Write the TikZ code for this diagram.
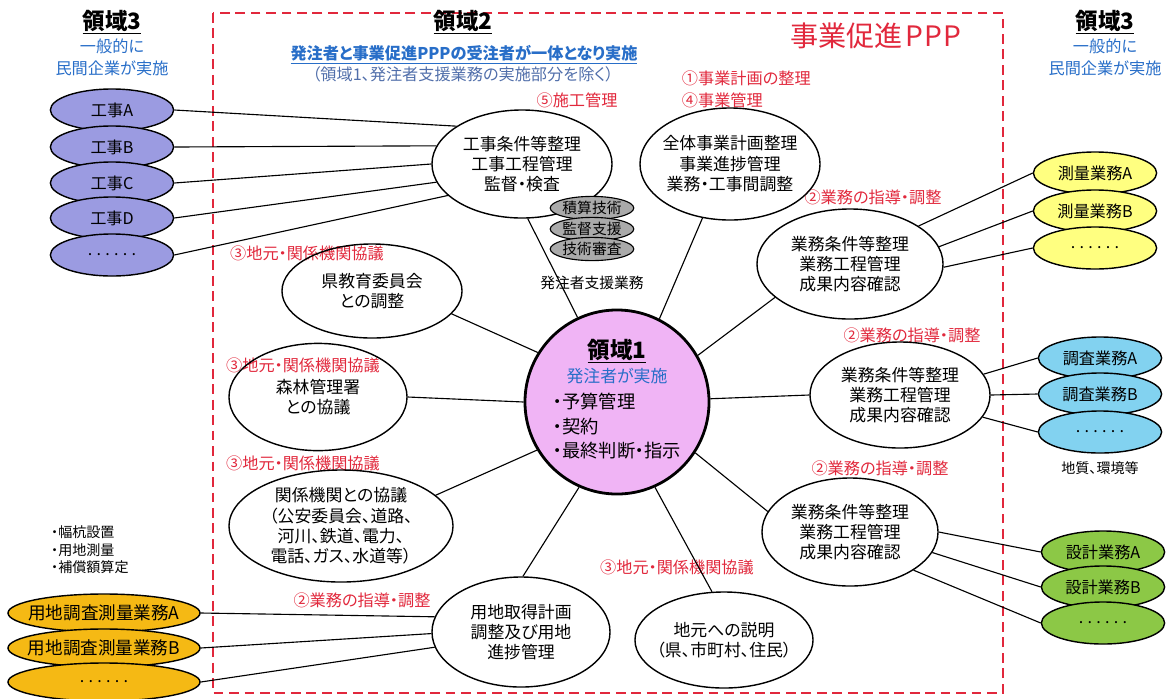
\documentclass[tikz,border=0pt]{standalone}
\usepackage{fontspec}
\setmainfont{Noto Sans CJK JP}[RawFeature=+palt]
\usetikzlibrary{shapes.geometric}
\definecolor{pppred}{RGB}{225,40,60}
\definecolor{ryoblue}{RGB}{40,110,200}
\definecolor{notegray}{RGB}{80,110,170}
\definecolor{kojicol}{RGB}{155,155,225}
\definecolor{sokucol}{RGB}{255,255,128}
\definecolor{chosacol}{RGB}{130,210,240}
\definecolor{sekkeicol}{RGB}{140,200,70}
\definecolor{yochicol}{RGB}{245,185,20}
\definecolor{ryo1col}{RGB}{240,180,245}
\definecolor{shiencol}{RGB}{170,170,170}
\newcommand{\sixdots}{.\kern3pt.\kern3pt.\kern3pt.\kern3pt.\kern3pt.}

\begin{document}
\begin{tikzpicture}[x=0.025cm,y=-0.025cm,thick,
	oval/.style={ellipse, draw, line width=1pt, align=center, inner xsep=-6pt, inner ysep=0pt, font=\fontsize{12}{14.5}\selectfont},
	firm/.style={ellipse, draw, line width=1pt, fill=#1, inner xsep=-6pt, inner ysep=0pt, minimum width=3.08cm, minimum height=1.05cm, font=\fontsize{11.5}{13}\selectfont},
	shien/.style={ellipse, draw, thick, fill=shiencol, inner sep=0pt, minimum width=2.08cm, minimum height=0.58cm, font=\fontsize{10.5}{12}\selectfont},
	head/.style={font=\fontsize{16}{18}\selectfont\bfseries},
	subhead/.style={text=ryoblue, align=center, font=\fontsize{11.5}{15.5}\selectfont},
	redlab/.style={text=pppred, inner sep=1pt, font=\fontsize{11.5}{15.5}\selectfont},
	memo/.style={align=left, font=\fontsize{10}{12.4}\selectfont}]
	\useasboundingbox (0,0) rectangle (1174,698);
	\draw[pppred, line width=1.5pt, dash pattern=on 7pt off 4pt] (213,13) rectangle (1003,693);

	\node[head] (l3L) at (112,22) {\underline{領域3}};
	\node[subhead] (l3Lsub) at (112,57) {一般的に\\民間企業が実施};
	\node[head] (l3R) at (1105,22) {\underline{領域3}};
	\node[subhead] (l3Rsub) at (1105,57) {一般的に\\民間企業が実施};
	\node[head] (l2) at (463,22) {\underline{領域2}};
	\node[text=ryoblue, font=\fontsize{11.5}{13}\selectfont\bfseries] (l2sub) at (464,55) {\underline{発注者と事業促進PPPの受注者が一体となり実施}};
	\node[text=notegray, font=\fontsize{11.5}{13}\selectfont] (l2note) at (463,74) {（領域1、発注者支援業務の実施部分を除く）};
	\node[text=pppred, font=\fontsize{20}{22}\selectfont] (ppp) at (876,36) {事業促進\kern1.5pt P\kern1pt P\kern1pt P};

	\node[redlab, anchor=west, align=left] (task14) at (680,89) {①事業計画の整理\\④事業管理};
	\node[redlab] (task5) at (577,100) {⑤施工管理};
	\node[redlab] (task2a) at (873,197) {②業務の指導・調整};
	\node[redlab] (task2b) at (912,335) {②業務の指導・調整};
	\node[redlab] (task2c) at (880,468) {②業務の指導・調整};
	\node[redlab] (task2d) at (362,600) {②業務の指導・調整};
	\node[redlab] (task3a) at (307,253) {③地元・関係機関協議};
	\node[redlab] (task3b) at (303,365) {③地元・関係機関協議};
	\node[redlab] (task3c) at (303,463) {③地元・関係機関協議};
	\node[redlab] (task3d) at (677,567) {③地元・関係機関協議};

	\node[circle, draw, line width=2pt, fill=ryo1col, minimum size=4.6cm, inner sep=-4pt, align=center, font=\fontsize{13}{17.5}\selectfont] (ryo1) at (617,402) {{\fontsize{16}{20}\selectfont\bfseries\underline{領域1}}\\{\color{ryoblue}\fontsize{12}{16}\selectfont 発注者が実施}\\[4pt]\begin{tabular}{@{}l@{}}・予算管理\\・契約\\・最終判断・指示\end{tabular}};

	\node[oval, minimum width=4.5cm, minimum height=2.7cm] (koji) at (522,164) {工事条件等整理\\工事工程管理\\監督・検査};
	\node[oval, minimum width=4.5cm, minimum height=2.8cm] (zentai) at (730,164) {全体事業計画整理\\事業進捗管理\\業務・工事間調整};
	\node[oval, minimum width=4.65cm, minimum height=2.75cm] (gyomu1) at (850,264) {業務条件等整理\\業務工程管理\\成果内容確認};
	\node[oval, minimum width=4.5cm, minimum height=2.65cm] (gyomu2) at (900,395) {業務条件等整理\\業務工程管理\\成果内容確認};
	\node[oval, minimum width=4.4cm, minimum height=2.7cm] (gyomu3) at (850,532) {業務条件等整理\\業務工程管理\\成果内容確認};
	\node[oval, minimum width=4.45cm, minimum height=2.4cm] (jimoto) at (724,640) {地元への説明\\（県、市町村、住民）};
	\node[oval, minimum width=4.5cm, minimum height=2.35cm] (kyoiku) at (372,291) {県教育委員会\\との調整};
	\node[oval, minimum width=4.45cm, minimum height=2.68cm] (shinrin) at (318,397) {森林管理署\\との協議};
	\node[oval, minimum width=5.6cm, minimum height=2.8cm] (kankei) at (341,526) {関係機関との協議\\（公安委員会、道路、\\河川、鉄道、電力、\\電話、ガス、水道等）};
	\node[oval, minimum width=4.45cm, minimum height=2.75cm] (yochi) at (521,632) {用地取得計画\\調整及び用地\\進捗管理};

	\node[shien] (sekisan) at (592,208) {積算技術};
	\node[shien] (kantoku) at (592,229) {監督支援};
	\node[shien] (gijutsu) at (592,249) {技術審査};
	\node[font=\fontsize{10.5}{12}\selectfont] (shienlab) at (592,283) {発注者支援業務};

	\node[firm=kojicol] (kojiA) at (112,110) {工事A};
	\node[firm=kojicol] (kojiB) at (112,147) {工事B};
	\node[firm=kojicol] (kojiC) at (112,183) {工事C};
	\node[firm=kojicol] (kojiD) at (112,218) {工事D};
	\node[firm=kojicol] (kojiE) at (112,255) {\sixdots};
	\node[firm=sokucol] (sokuA) at (1095,173) {測量業務A};
	\node[firm=sokucol] (sokuB) at (1095,211) {測量業務B};
	\node[firm=sokucol] (sokuE) at (1095,248) {\sixdots};
	\node[firm=chosacol] (chosaA) at (1100,358) {調査業務A};
	\node[firm=chosacol] (chosaB) at (1100,394) {調査業務B};
	\node[firm=chosacol] (chosaE) at (1100,432) {\sixdots};
	\node[firm=sekkeicol] (sekkeiA) at (1103,552) {設計業務A};
	\node[firm=sekkeicol] (sekkeiB) at (1103,587) {設計業務B};
	\node[firm=sekkeicol] (sekkeiE) at (1103,623) {\sixdots};
	\node[firm=yochicol, minimum width=4.8cm, minimum height=0.95cm, font=\fontsize{12.5}{14}\selectfont] (yochiA) at (104,613) {用地調査測量業務A};
	\node[firm=yochicol, minimum width=4.8cm, minimum height=0.95cm, font=\fontsize{12.5}{14}\selectfont] (yochiB) at (104,648) {用地調査測量業務B};
	\node[firm=yochicol, minimum width=4.8cm, minimum height=0.95cm] (yochiE) at (104,682) {\sixdots};

	\node[memo, anchor=west] (yochimemo) at (46,550) {・幅杭設置\\・用地測量\\・補償額算定};
	\node[memo] (chosamemo) at (1100,468) {地質、環境等};

	\draw (ryo1.115) -- (koji.-84);
	\draw (ryo1.63) -- (zentai.-117);
	\draw (ryo1.30) -- (gyomu1.-156);
	\draw (ryo1.2) -- (gyomu2.west);
	\draw (ryo1.-33) -- (gyomu3.166);
	\draw (ryo1.-66) -- (jimoto.104);
	\draw (ryo1.-114) -- (yochi.88);
	\draw (ryo1.-149) -- (kankei.18);
	\draw (ryo1.west) -- (shinrin.east);
	\draw (ryo1.148) -- (kyoiku.-16);

	\draw (kojiA.east) -- (koji.150);
	\draw (kojiB.east) -- (koji.168);
	\draw (kojiC.east) -- (koji.180);
	\draw (kojiD.east) -- (koji.192);
	\draw (kojiE.east) -- (koji.203);
	\draw (gyomu1.29) -- (sokuA.west);
	\draw (gyomu1.11) -- (sokuB.west);
	\draw (gyomu1.-2) -- (sokuE.west);
	\draw (gyomu2.14) -- (chosaA.west);
	\draw (gyomu2.0) -- (chosaB.west);
	\draw (gyomu2.-15) -- (chosaE.west);
	\draw (gyomu3.0) -- (sekkeiA.west);
	\draw (gyomu3.-14) -- (sekkeiB.west);
	\draw (gyomu3.-31) -- (sekkeiE.west);
	\draw (yochiA.east) -- (yochi.170);
	\draw (yochiB.east) -- (yochi.181);
	\draw (yochiE.east) -- (yochi.190);
\end{tikzpicture}
\end{document}
